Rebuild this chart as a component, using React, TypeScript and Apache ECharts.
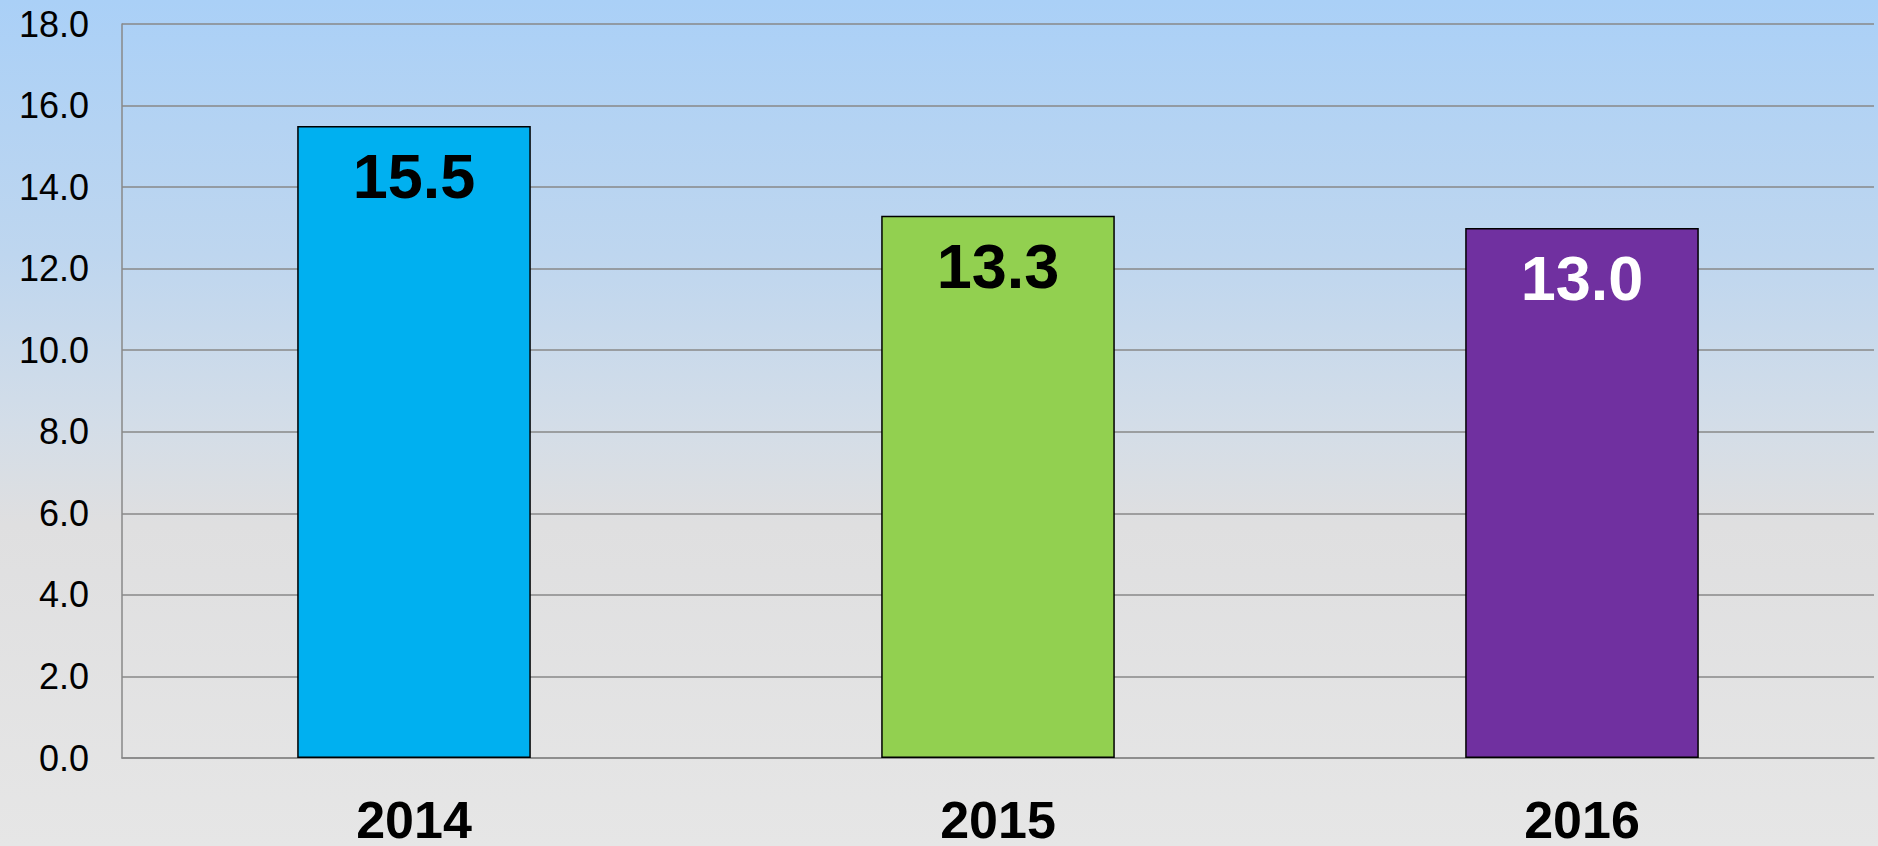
import React, { useEffect, useRef } from "react";
import * as echarts from "echarts";

const categories = ["2014", "2015", "2016"];
const values = [15.5, 13.3, 13.0];
const barColors = ["#00B0F0", "#92D050", "#7030A0"];
const labelColors = ["#000000", "#000000", "#FFFFFF"];
const yTicks = { min: 0, max: 18, interval: 2 };

export default function App() {
  const ref = useRef<HTMLDivElement>(null);
  useEffect(() => {
    document.body.style.margin = "0";
    const chart = echarts.init(ref.current!, null, { renderer: "svg" });
    chart.setOption({
      animation: false,
      backgroundColor: new echarts.graphic.LinearGradient(0, 0, 0, 1, [
        { offset: 0, color: "#AAD0F7" },
        { offset: 0.3, color: "#BED6EF" },
        { offset: 0.5, color: "#D3DDE8" },
        { offset: 0.62, color: "#DFDFE0" },
        { offset: 1, color: "#E6E6E6" },
      ]),
      grid: { left: 122, right: 4, top: 24, bottom: 80, containLabel: false },
      xAxis: {
        type: "category",
        data: categories,
        axisLine: { show: true, lineStyle: { color: "#888888", width: 1.5 } },
        axisTick: { show: false },
        axisLabel: {
          color: "#000",
          fontFamily: "Liberation Sans, Arial, sans-serif",
          fontWeight: "bold",
          fontSize: 52,
          margin: 36,
        },
      },
      yAxis: {
        type: "value",
        min: yTicks.min,
        max: yTicks.max,
        interval: yTicks.interval,
        axisLine: { show: true, lineStyle: { color: "#888888", width: 1.5 } },
        axisTick: { show: false },
        splitLine: { show: true, lineStyle: { color: "#888888", width: 1.5 } },
        axisLabel: {
          color: "#000",
          fontFamily: "Liberation Sans, Arial, sans-serif",
          fontSize: 36,
          margin: 33,
          formatter: (v: number) => v.toFixed(1),
        },
      },
      series: [
        {
          type: "bar",
          barWidth: "40%",
          data: values.map((v, i) => ({
            value: v,
            itemStyle: { color: barColors[i], borderColor: "#000", borderWidth: 1.5 },
            label: { color: labelColors[i] },
          })),
          label: {
            show: true,
            position: "insideTop",
            distance: 19,
            fontFamily: "Liberation Sans, Arial, sans-serif",
            fontWeight: "bold",
            fontSize: 63,
            formatter: (p: any) => Number(p.value).toFixed(1),
          },
        },
      ],
    });
    return () => chart.dispose();
  }, []);
  return <div ref={ref} style={{ width: 1878, height: 846 }} />;
}
